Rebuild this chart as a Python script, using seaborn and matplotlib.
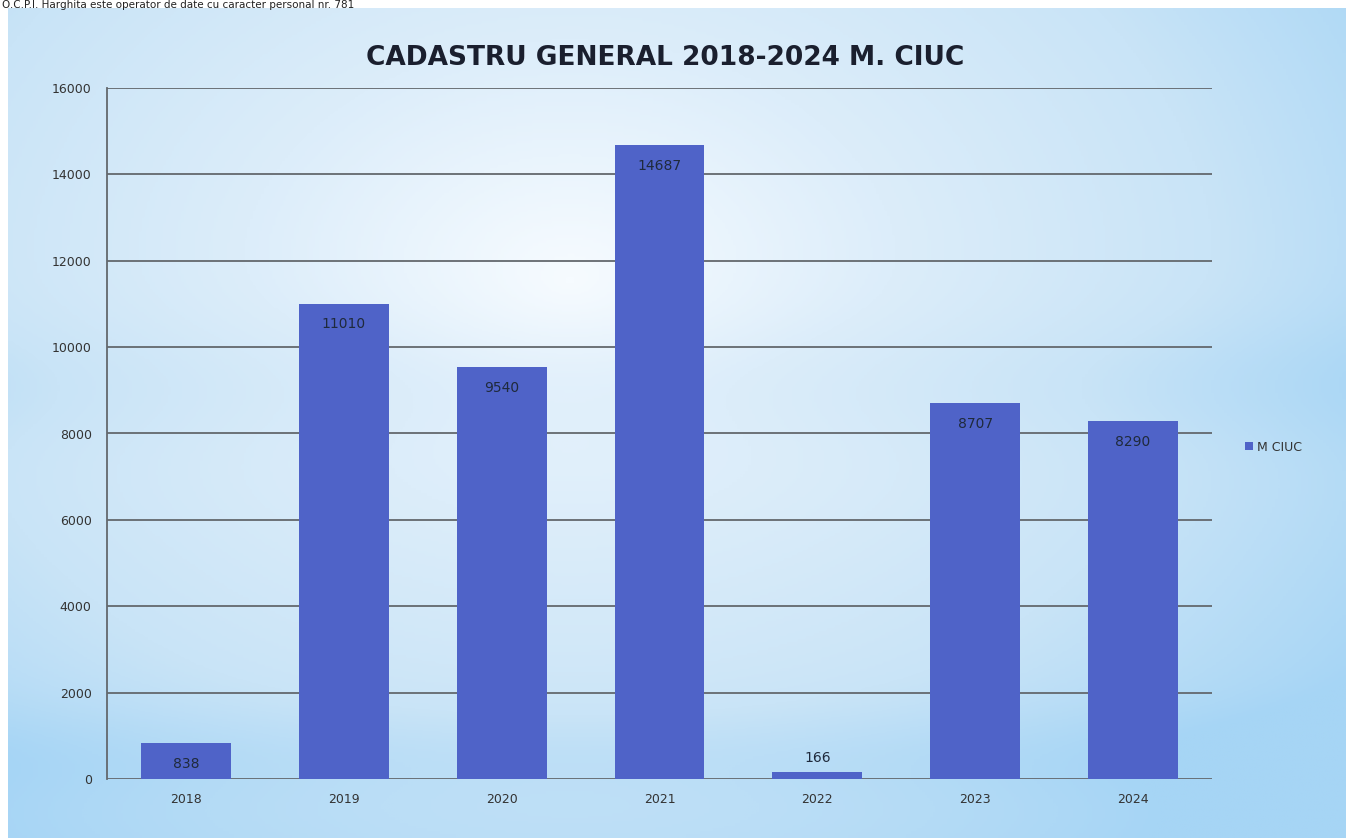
import numpy as np
import pandas as pd
import seaborn as sns
import matplotlib.pyplot as plt
from matplotlib.colors import LinearSegmentedColormap

years = ["2018", "2019", "2020", "2021", "2022", "2023", "2024"]
values = [838, 11010, 9540, 14687, 166, 8707, 8290]
series_name = "M CIUC"
title = "CADASTRU GENERAL 2018-2024 M. CIUC"
header = "O.C.P.I. Harghita este operator de date cu caracter personal nr. 781"

df = pd.DataFrame({"an": years, "valoare": values})

sns.set_theme(style="white")
plt.rcParams['font.family'] = ['DejaVu Sans']

W, H = 1346, 838
fig = plt.figure(figsize=(W / 100, H / 100), dpi=100)
fig.patch.set_facecolor("white")

# background gradient (light blue, whiter in the middle)
bg = fig.add_axes([8 / W, 0, 1 - 8 / W, 1 - 8 / H])
bg.set_axis_off()
yy, xx = np.mgrid[0:1:300j, 0:1:500j]
r = np.sqrt(((xx - 0.42) / 0.72) ** 2 + ((yy - 0.33) / 0.85) ** 2)
bands = 0.12 * np.exp(-((yy - 0.45) / 0.08) ** 2) + 0.1 * np.exp(-((yy - 0.9) / 0.06) ** 2)
z = np.clip(r + bands, 0, 1)
cmap = LinearSegmentedColormap.from_list("bgc", ["#f6fbff", "#dcedfa", "#c9e4f7", "#a6d5f5"])
bg.imshow(z, cmap=cmap, aspect="auto", extent=[0, 1, 0, 1], origin="upper")
bg.set_xlim(0, 1)
bg.set_ylim(0, 1)

fig.text(2 / W, 1, header, fontsize=7.5, color="#222222", va="top", ha="left")

ax = fig.add_axes([107 / W, 1 - 779 / H, (1212 - 107) / W, (779 - 88) / H])
ax.patch.set_alpha(0)
sns.barplot(data=df, x="an", y="valoare", color="#4f63c8", saturation=1, width=0.57,
            linewidth=0, ax=ax, label=series_name)

ax.set_ylim(0, 16000)
ax.set_xlim(-0.5, 6.5)
ax.set_yticks(np.arange(0, 16001, 2000))
ax.yaxis.grid(True, color="#63686d", linewidth=1.3)
ax.set_axisbelow(True)
for s in ["top", "right", "bottom"]:
    ax.spines[s].set_visible(False)
ax.spines["left"].set_color("#63686d")
ax.spines["left"].set_linewidth(1.3)
ax.set_xlabel("")
ax.set_ylabel("")
ax.tick_params(axis="y", labelsize=9, colors="#333333", pad=11, length=0)
ax.tick_params(axis="x", labelsize=9, colors="#333333", pad=10, length=0)

for i, v in enumerate(values):
    if v > 500:
        ax.annotate(str(v), (i, v), xytext=(0, -15), textcoords="offset points",
                    ha="center", va="center", fontsize=10, color="#1f2a3c")
    else:
        ax.annotate(str(v), (i, v), xytext=(0, 10), textcoords="offset points",
                    ha="center", va="center", fontsize=10, color="#1f2a3c")

fig.text(665 / W, 1 - 58 / H, title, fontsize=19, fontweight="bold", color="#1a1f2e",
         ha="center", va="center")

ax.legend(loc="center left", bbox_to_anchor=(1.02, 0.48), frameon=False, fontsize=9,
          handlelength=0.6, handleheight=0.6, handletextpad=0.3, labelcolor="#333333")

fig.savefig("out.png", dpi=100)
